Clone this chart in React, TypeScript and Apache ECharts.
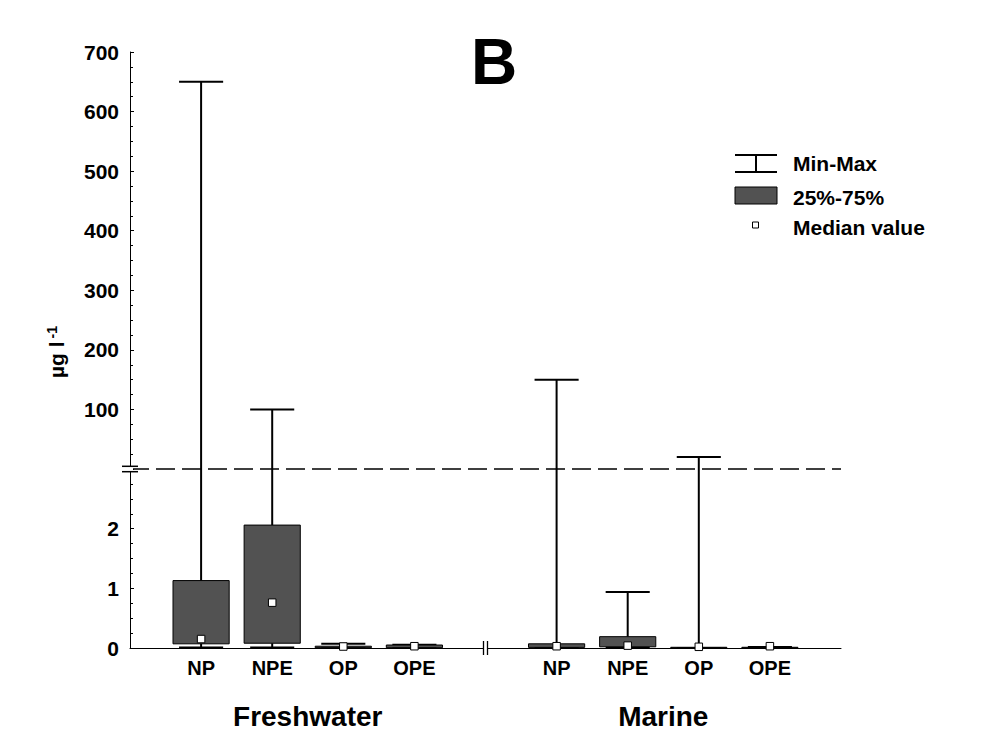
import React, { useEffect, useRef } from 'react';
import * as echarts from 'echarts';

// ---------- data ----------
const groups = ['Freshwater', 'Marine'];
const categories = ['NP', 'NPE', 'OP', 'OPE'];
// order: Freshwater NP, NPE, OP, OPE, Marine NP, NPE, OP, OPE  (µg l-1)
const minVals = [0.01, 0.01, 0.002, 0.002, 0.005, 0.01, 0.002, 0.002];
const q1Vals = [0.07, 0.08, 0.005, 0.005, 0.01, 0.02, 0.003, 0.003];
const medianVals = [0.15, 0.76, 0.025, 0.03, 0.03, 0.04, 0.02, 0.03];
const q3Vals = [1.13, 2.06, 0.03, 0.05, 0.07, 0.19, 0.012, 0.012];
const maxVals = [650, 100, 0.07, 0.055, 150, 0.94, 20, 0.015];

// axis scales (broken y axis)
const lowerAxis = { min: 0, max: 3, interval: 1 };
const upperAxis = { min: 0, max: 700, interval: 100 };
const legendLabels = ['Min-Max', '25%-75%', 'Median value'];
const titleText = 'B';

// ---------- derived ----------
const slotsPerGroup = categories.length + 1;
const X_MAX = groups.length * slotsPerGroup;
const BREAK_X = slotsPerGroup;
const positions = groups.flatMap((_, gi) => categories.map((__, ci) => gi * slotsPerGroup + ci + 1));
const posLabel: Record<number, string> = {};
positions.forEach((p, i) => { posLabel[p] = categories[i % categories.length]; });

const BOX_W = 0.79; // in x-axis units
const CAP_W = 0.62;
const BOX_COLOR = '#525252';
const FONT = "'Liberation Sans', Arial, Helvetica, sans-serif";

export default function App() {
  const ref = useRef<HTMLDivElement>(null);
  useEffect(() => {
    if (!ref.current) return;
    const chart = echarts.init(ref.current, undefined, { renderer: 'svg' });

    const lineStyle = { stroke: '#000', lineWidth: 2 };

    const lowerWhiskers = positions.map((p, i) => [p, minVals[i], q1Vals[i], q3Vals[i], maxVals[i]]);
    const upperWhiskers = positions
      .map((p, i) => [p, maxVals[i]])
      .filter((d) => d[1] > lowerAxis.max);
    const boxes = positions.map((p, i) => [p, q1Vals[i], q3Vals[i]]);
    const medians = positions.map((p, i) => [p, medianVals[i]]);

    const axisLabelStyle = { color: '#000', fontWeight: 'bold', fontSize: 21, fontFamily: FONT };

    chart.setOption({
      animation: false,
      title: {
        text: titleText,
        left: 466,
        top: 25,
        textStyle: { fontSize: 64, fontWeight: 'bold', fontFamily: FONT, color: '#000' },
      },
      grid: [
        { left: 130, top: 52, width: 711, height: 417 },
        { left: 130, top: 469, width: 711, height: 179 },
      ],
      xAxis: [
        { gridIndex: 0, type: 'value', min: 0, max: X_MAX, show: false },
        {
          gridIndex: 1, type: 'value', min: 0, max: X_MAX, interval: 1,
          axisLine: { show: true, lineStyle: { color: '#000', width: 1 } },
          axisTick: { show: false },
          splitLine: { show: false },
          axisLabel: {
            ...axisLabelStyle, fontSize: 20, margin: 10,
            formatter: (v: number) => posLabel[v] || '',
          },
        },
        {
          gridIndex: 1, type: 'category', data: groups, position: 'bottom', offset: 46,
          axisLine: { show: false }, axisTick: { show: false },
          axisLabel: { ...axisLabelStyle, fontSize: 28, margin: 8 },
        },
      ],
      yAxis: [
        {
          gridIndex: 0, type: 'value', min: upperAxis.min, max: upperAxis.max, interval: upperAxis.interval,
          axisLine: { show: true, lineStyle: { color: '#000', width: 1 } },
          axisTick: { show: true, inside: true, length: 4, lineStyle: { color: '#000' } },
          minorTick: { show: true, splitNumber: 4, length: 3, lineStyle: { color: '#000' } },
          splitLine: { show: false },
          axisLabel: { ...axisLabelStyle, margin: 11, formatter: (v: number) => (v === 0 ? '' : String(v)) },
        },
        {
          gridIndex: 1, type: 'value', min: lowerAxis.min, max: lowerAxis.max, interval: lowerAxis.interval,
          axisLine: { show: true, lineStyle: { color: '#000', width: 1 } },
          axisTick: { show: true, inside: true, length: 4, lineStyle: { color: '#000' } },
          minorTick: { show: true, splitNumber: 4, length: 3, lineStyle: { color: '#000' } },
          splitLine: { show: false },
          axisLabel: { ...axisLabelStyle, margin: 11, formatter: (v: number) => (v === lowerAxis.max ? '' : String(v)) },
        },
      ],
      series: [
        {
          name: 'break', type: 'line', xAxisIndex: 0, yAxisIndex: 0,
          data: [[0, upperAxis.min], [X_MAX, upperAxis.min]],
          symbol: 'none', clip: false, silent: true,
          lineStyle: { color: '#000', width: 1.4, type: [19, 7] },
        },
        {
          name: legendLabels[0], type: 'custom', xAxisIndex: 0, yAxisIndex: 0,
          data: upperWhiskers, clip: false,
          renderItem: (params: any, api: any) => {
            const x = api.value(0);
            const mx = api.value(1);
            const capHalf = api.size([CAP_W, 0])[0] / 2;
            const p0 = api.coord([x, upperAxis.min]);
            const p1 = api.coord([x, mx]);
            return {
              type: 'group',
              children: [
                { type: 'line', shape: { x1: p0[0], y1: p0[1], x2: p1[0], y2: p1[1] }, style: lineStyle },
                { type: 'line', shape: { x1: p1[0] - capHalf, y1: p1[1], x2: p1[0] + capHalf, y2: p1[1] }, style: lineStyle },
              ],
            };
          },
        },
        {
          name: legendLabels[0], type: 'custom', xAxisIndex: 1, yAxisIndex: 1,
          data: lowerWhiskers, clip: false,
          renderItem: (params: any, api: any) => {
            const x = api.value(0);
            const mn = api.value(1);
            const q1 = api.value(2);
            const q3 = api.value(3);
            const mx = api.value(4);
            const capHalf = api.size([CAP_W, 0])[0] / 2;
            const top = Math.min(mx, lowerAxis.max);
            const pMin = api.coord([x, mn]);
            const pQ1 = api.coord([x, q1]);
            const pQ3 = api.coord([x, q3]);
            const pTop = api.coord([x, top]);
            const children: any[] = [
              { type: 'line', shape: { x1: pQ3[0], y1: pQ3[1], x2: pTop[0], y2: pTop[1] }, style: lineStyle },
              { type: 'line', shape: { x1: pMin[0], y1: pMin[1], x2: pQ1[0], y2: pQ1[1] }, style: lineStyle },
              { type: 'line', shape: { x1: pMin[0] - capHalf, y1: pMin[1], x2: pMin[0] + capHalf, y2: pMin[1] }, style: lineStyle },
            ];
            if (mx <= lowerAxis.max) {
              children.push({ type: 'line', shape: { x1: pTop[0] - capHalf, y1: pTop[1], x2: pTop[0] + capHalf, y2: pTop[1] }, style: lineStyle });
            }
            return { type: 'group', children };
          },
        },
        {
          name: legendLabels[1], type: 'custom', xAxisIndex: 1, yAxisIndex: 1,
          data: boxes, clip: false,
          renderItem: (params: any, api: any) => {
            const x = api.value(0);
            const pLo = api.coord([x, api.value(1)]);
            const pHi = api.coord([x, api.value(2)]);
            const w = api.size([BOX_W, 0])[0];
            return {
              type: 'rect',
              shape: { x: pHi[0] - w / 2, y: pHi[1], width: w, height: Math.max(pLo[1] - pHi[1], 0.5) },
              style: { fill: BOX_COLOR, stroke: '#000', lineWidth: 1 },
            };
          },
        },
        {
          name: legendLabels[2], type: 'scatter', xAxisIndex: 1, yAxisIndex: 1,
          data: medians, symbol: 'rect', symbolSize: 7.5, clip: false,
          itemStyle: { color: '#fff', borderColor: '#000', borderWidth: 1, opacity: 1 },
        },
      ],
    });

    // decorations: axis breaks, y label, legend
    const axX = chart.convertToPixel({ gridIndex: 1 }, [0, 0]) as number[];
    const brY = chart.convertToPixel({ gridIndex: 0 }, [0, upperAxis.min]) as number[];
    const brX = chart.convertToPixel({ gridIndex: 1 }, [BREAK_X, 0]) as number[];
    const lx = 735;
    const tx = 793;
    const textStyle = { fontSize: 21, fontWeight: 'bold', fontFamily: FONT, fill: '#000' };

    chart.setOption({
      graphic: {
        elements: [
          // y-axis break
          { type: 'rect', shape: { x: axX[0] - 3, y: brY[1] - 2.5, width: 6, height: 5 }, style: { fill: '#fff' }, z: 100 },
          { type: 'line', shape: { x1: axX[0] - 8, y1: brY[1] - 2.7, x2: axX[0] + 8, y2: brY[1] - 2.7 }, style: { stroke: '#000', lineWidth: 1.5 }, z: 101 },
          { type: 'line', shape: { x1: axX[0] - 8, y1: brY[1] + 2.7, x2: axX[0] + 8, y2: brY[1] + 2.7 }, style: { stroke: '#000', lineWidth: 1.5 }, z: 101 },
          // x-axis break
          { type: 'rect', shape: { x: brX[0] - 2, y: brX[1] - 3, width: 4, height: 6 }, style: { fill: '#fff' }, z: 100 },
          { type: 'line', shape: { x1: brX[0] - 2, y1: brX[1] - 7, x2: brX[0] - 2, y2: brX[1] + 7 }, style: { stroke: '#000', lineWidth: 1.3 }, z: 101 },
          { type: 'line', shape: { x1: brX[0] + 2, y1: brX[1] - 7, x2: brX[0] + 2, y2: brX[1] + 7 }, style: { stroke: '#000', lineWidth: 1.3 }, z: 101 },
          // y axis title
          {
            type: 'text', x: 56, y: 352, rotation: Math.PI / 2,
            style: {
              text: '{m|µg l}{s|-1}',
              align: 'center', verticalAlign: 'middle',
              rich: {
                m: { fontSize: 21, fontWeight: 'bold', fontFamily: FONT, fill: '#000' },
                s: { fontSize: 14, fontWeight: 'bold', fontFamily: FONT, fill: '#000', verticalAlign: 'top', padding: [0, 0, 9, 3] },
              },
            },
          },
          // legend: Min-Max
          { type: 'line', shape: { x1: lx, y1: 155, x2: lx + 42, y2: 155 }, style: { stroke: '#000', lineWidth: 2 } },
          { type: 'line', shape: { x1: lx + 21, y1: 155, x2: lx + 21, y2: 172 }, style: { stroke: '#000', lineWidth: 2 } },
          { type: 'line', shape: { x1: lx, y1: 172, x2: lx + 42, y2: 172 }, style: { stroke: '#000', lineWidth: 2 } },
          { type: 'text', x: tx, y: 163, style: { ...textStyle, text: legendLabels[0], verticalAlign: 'middle' } },
          // legend: box
          { type: 'rect', shape: { x: lx, y: 187, width: 42, height: 17 }, style: { fill: BOX_COLOR, stroke: '#000', lineWidth: 1 } },
          { type: 'text', x: tx, y: 197, style: { ...textStyle, text: legendLabels[1], verticalAlign: 'middle' } },
          // legend: median
          { type: 'rect', shape: { x: lx + 17.5, y: 222, width: 6, height: 6 }, style: { fill: '#fff', stroke: '#000', lineWidth: 1 } },
          { type: 'text', x: tx, y: 227, style: { ...textStyle, text: legendLabels[2], verticalAlign: 'middle' } },
        ],
      },
    });

    return () => chart.dispose();
  }, []);

  return (
    <div
      ref={ref}
      style={{ position: 'fixed', left: 0, top: 0, width: 1000, height: 734, background: '#fff' }}
    />
  );
}
